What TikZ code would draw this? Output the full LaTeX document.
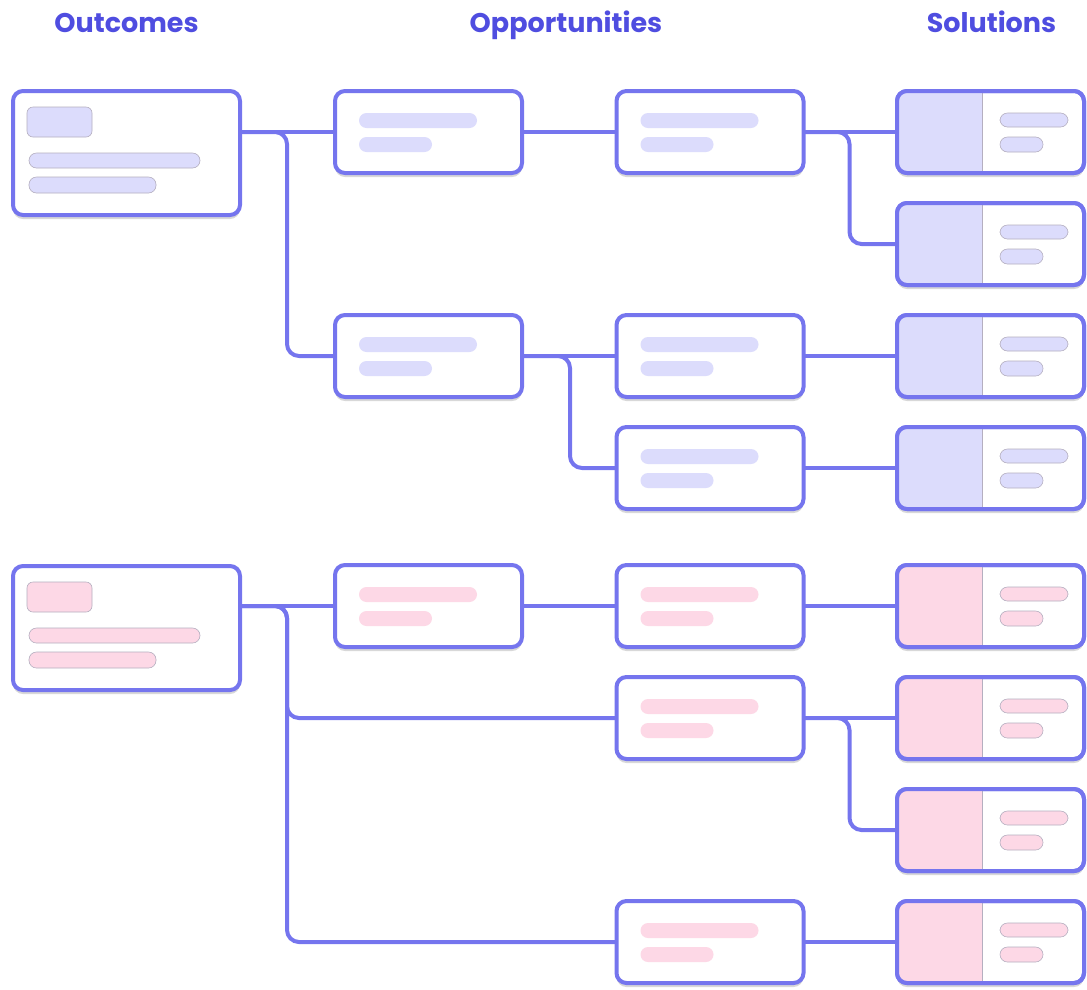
\documentclass[tikz,border=0pt]{standalone}
\usepackage{fontspec}
\setmainfont{Poppins}
\usetikzlibrary{shadows}
\definecolor{edgec}{HTML}{7575EE}
\definecolor{titlec}{HTML}{4F4DE0}
\definecolor{lav}{HTML}{DCDCFC}
\definecolor{pinkc}{HTML}{FDD8E6}
\definecolor{chipline}{HTML}{B5AFC0}
\begin{document}
\begin{tikzpicture}[x=1pt,y=-1pt,
  card/.style={draw=edgec, line width=4pt, fill=white, rounded corners=10pt, inner sep=0pt, outer sep=0pt,
    drop shadow={shadow xshift=0pt, shadow yshift=-4pt, opacity=0.22, fill=black!70}},
  outbox/.style={card, minimum width=227pt, minimum height=124pt},
  oppbox/.style={card, minimum width=187pt, minimum height=82pt},
  solbox/.style={card, minimum width=187pt, minimum height=82pt},
  conn/.style={draw=edgec, line width=4pt, rounded corners=12pt},
  chip/.style={draw=chipline, line width=0.6pt, rounded corners=6pt},
  pill/.style={rounded corners=7.5pt},
  ttl/.style={font=\bfseries\fontsize{27}{30}\selectfont, text=titlec, anchor=base, inner sep=0pt}]
\useasboundingbox (0,0) rectangle (1087,989);

% titles
\node[ttl] (t1) at (126.5,32) {Outcomes};
\node[ttl] (t2) at (566,32) {Opportunities};
\node[ttl] (t3) at (991.5,32) {Solutions};

% boxes
\node[outbox] (o1) at (126.5,153) {};
\node[outbox] (o2) at (126.5,628) {};
\node[oppbox] (a1) at (428.5,132) {};
\node[oppbox] (a2) at (428.5,356) {};
\node[oppbox] (a5) at (428.5,606) {};
\node[oppbox] (b1) at (710,132) {};
\node[oppbox] (b3) at (710,356) {};
\node[oppbox] (b4) at (710,468) {};
\node[oppbox] (b5) at (710,606) {};
\node[oppbox] (b6) at (710,718) {};
\node[oppbox] (b8) at (710,942) {};
\node[solbox] (s1) at (990.5,132) {};
\node[solbox] (s2) at (990.5,244) {};
\node[solbox] (s3) at (990.5,356) {};
\node[solbox] (s4) at (990.5,468) {};
\node[solbox] (s5) at (990.5,606) {};
\node[solbox] (s6) at (990.5,718) {};
\node[solbox] (s7) at (990.5,830) {};
\node[solbox] (s8) at (990.5,942) {};

% outcome contents
\foreach \n/\c in {o1/lav,o2/pinkc}{
  \filldraw[chip, fill=\c] ([shift={(14,16)}]\n.north west) rectangle ([shift={(79,46)}]\n.north west);
  \filldraw[chip, pill, fill=\c] ([shift={(16,62)}]\n.north west) rectangle ([shift={(187,77)}]\n.north west);
  \filldraw[chip, pill, fill=\c] ([shift={(16,86)}]\n.north west) rectangle ([shift={(143,102)}]\n.north west);
}

% opportunity contents
\foreach \n/\c in {a1/lav,a2/lav,b1/lav,b3/lav,b4/lav,a5/pinkc,b5/pinkc,b6/pinkc,b8/pinkc}{
  \fill[pill, \c] ([shift={(24,22)}]\n.north west) rectangle ([shift={(142,37)}]\n.north west);
  \fill[pill, \c] ([shift={(24,46)}]\n.north west) rectangle ([shift={(97,61)}]\n.north west);
}

% solution contents
\foreach \n/\c in {s1/lav,s2/lav,s3/lav,s4/lav,s5/pinkc,s6/pinkc,s7/pinkc,s8/pinkc}{
  \fill[\c] ([xshift=85pt]\n.south west) [rounded corners=10pt] -- (\n.south west) -- (\n.north west) [sharp corners] -- ([xshift=85pt]\n.north west) -- cycle;
  \draw[chipline, line width=0.8pt] ([xshift=85pt]\n.north west) -- ([xshift=85pt]\n.south west);
  \draw[edgec, line width=4pt, rounded corners=10pt] (\n.north west) rectangle (\n.south east);
  \filldraw[chip, pill, fill=\c] ([shift={(103,22)}]\n.north west) rectangle ([shift={(171,36)}]\n.north west);
  \filldraw[chip, pill, fill=\c] ([shift={(103,46)}]\n.north west) rectangle ([shift={(146,61)}]\n.north west);
}

% connectors
\draw[conn] (o1.east |- a1.west) -- (a1.west);
\draw[conn] (o1.east |- a1.west) -- ++(47,0) |- (a2.west);
\draw[conn] (a1.east) -- (b1.west);
\draw[conn] (b1.east) -- (s1.west);
\draw[conn] (b1.east) -- ++(46,0) |- (s2.west);
\draw[conn] (a2.east) -- (b3.west);
\draw[conn] (a2.east) -- ++(48,0) |- (b4.west);
\draw[conn] (b3.east) -- (s3.west);
\draw[conn] (b4.east) -- (s4.west);
\draw[conn] (o2.east |- a5.west) -- (a5.west);
\draw[conn] (o2.east |- a5.west) -- ++(47,0) |- (b6.west);
\draw[conn] (o2.east |- a5.west) -- ++(47,0) |- (b8.west);
\draw[conn] (a5.east) -- (b5.west);
\draw[conn] (b5.east) -- (s5.west);
\draw[conn] (b6.east) -- (s6.west);
\draw[conn] (b6.east) -- ++(46,0) |- (s7.west);
\draw[conn] (b8.east) -- (s8.west);
\end{tikzpicture}
\end{document}
